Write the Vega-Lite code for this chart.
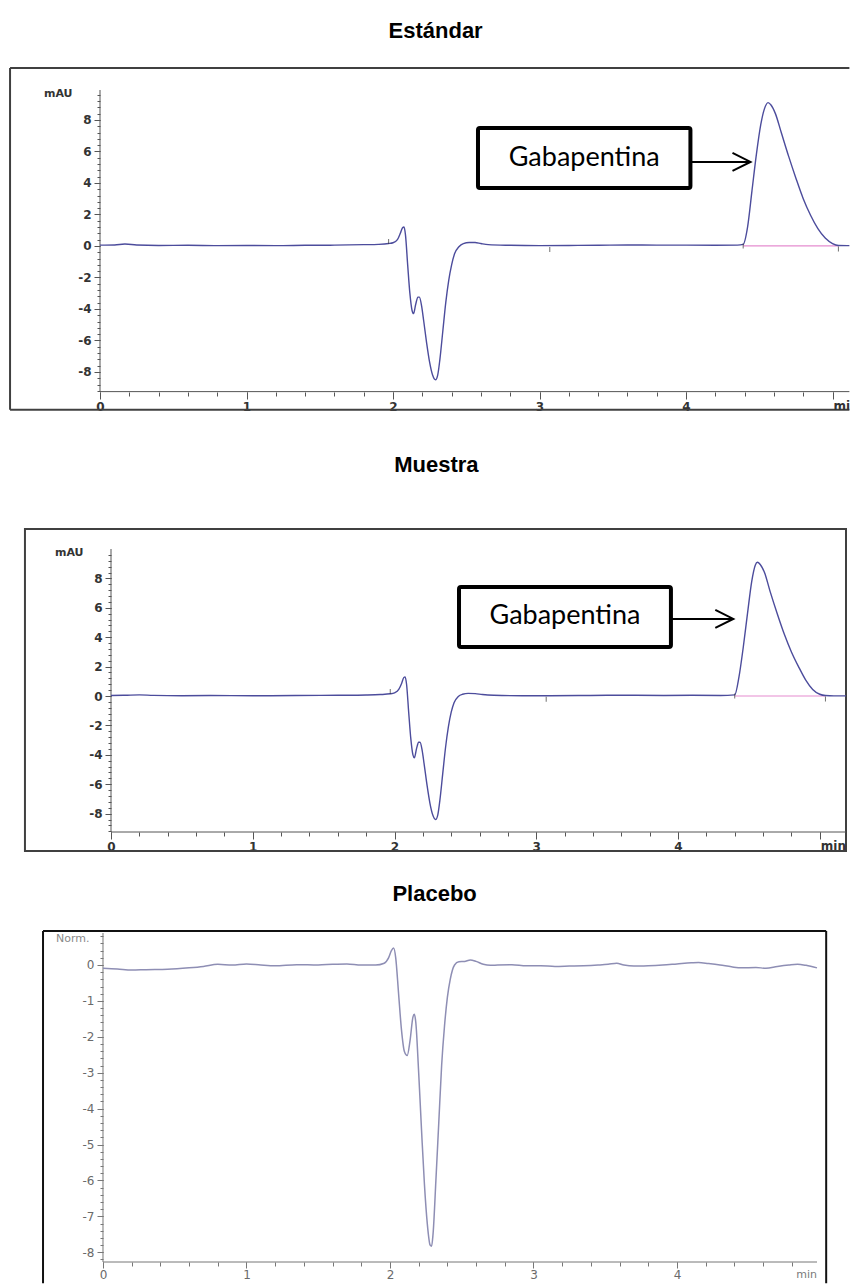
{
  "$schema": "https://vega.github.io/schema/vega-lite/v6.json",
  "background": "white",
  "padding": {"left": 9, "top": 19, "right": 0, "bottom": 0},
  "bounds": "flush",
  "spacing": 101,
  "datasets": {
    "estandar": [
      {"t": 0, "v": 0.05}, {"t": 0.1, "v": 0.06}, {"t": 0.17, "v": 0.12}, {"t": 0.25, "v": 0.06}, {"t": 0.4, "v": 0.03},
      {"t": 0.6, "v": 0.04}, {"t": 0.8, "v": 0.02}, {"t": 1.0, "v": 0.03}, {"t": 1.2, "v": 0.02}, {"t": 1.4, "v": 0.04},
      {"t": 1.6, "v": 0.05}, {"t": 1.8, "v": 0.08}, {"t": 1.9, "v": 0.1}, {"t": 1.97, "v": 0.15}, {"t": 2.0, "v": 0.2},
      {"t": 2.03, "v": 0.4}, {"t": 2.05, "v": 0.8}, {"t": 2.065, "v": 1.15}, {"t": 2.075, "v": 1.2}, {"t": 2.085, "v": 0.7},
      {"t": 2.1, "v": -1.2}, {"t": 2.115, "v": -3.0}, {"t": 2.13, "v": -4.1}, {"t": 2.14, "v": -4.3}, {"t": 2.155, "v": -3.7},
      {"t": 2.17, "v": -3.25}, {"t": 2.18, "v": -3.25}, {"t": 2.195, "v": -3.8}, {"t": 2.21, "v": -4.8}, {"t": 2.23, "v": -6.2},
      {"t": 2.25, "v": -7.4}, {"t": 2.27, "v": -8.2}, {"t": 2.29, "v": -8.5}, {"t": 2.305, "v": -8.2}, {"t": 2.32, "v": -7.2},
      {"t": 2.34, "v": -5.4}, {"t": 2.36, "v": -3.6}, {"t": 2.38, "v": -2.2}, {"t": 2.4, "v": -1.2}, {"t": 2.42, "v": -0.5},
      {"t": 2.45, "v": -0.05}, {"t": 2.48, "v": 0.15}, {"t": 2.52, "v": 0.22}, {"t": 2.56, "v": 0.22}, {"t": 2.6, "v": 0.15},
      {"t": 2.65, "v": 0.08}, {"t": 2.8, "v": 0.04}, {"t": 3.0, "v": 0.02}, {"t": 3.2, "v": 0.03}, {"t": 3.4, "v": 0.04},
      {"t": 3.6, "v": 0.06}, {"t": 3.8, "v": 0.05}, {"t": 4.0, "v": 0.05}, {"t": 4.2, "v": 0.04}, {"t": 4.35, "v": 0.05},
      {"t": 4.39, "v": 0.1}, {"t": 4.42, "v": 1.2}, {"t": 4.45, "v": 3.5}, {"t": 4.48, "v": 5.8}, {"t": 4.51, "v": 7.7},
      {"t": 4.535, "v": 8.7}, {"t": 4.56, "v": 9.1}, {"t": 4.58, "v": 8.95}, {"t": 4.61, "v": 8.4}, {"t": 4.65, "v": 7.2},
      {"t": 4.7, "v": 5.7}, {"t": 4.75, "v": 4.3}, {"t": 4.8, "v": 3.0}, {"t": 4.85, "v": 1.95}, {"t": 4.9, "v": 1.1},
      {"t": 4.95, "v": 0.5}, {"t": 5.0, "v": 0.15}, {"t": 5.04, "v": 0.03}, {"t": 5.1, "v": 0.02}, {"t": 5.115, "v": 0.02}
    ],
    "eventos_estandar": [
      {"t": 1.97, "v": 0.28}, {"t": 3.07, "v": -0.22}, {"t": 4.39, "v": 0.0}, {"t": 5.04, "v": -0.2}
    ],
    "muestra": [
      {"t": 0, "v": 0.03}, {"t": 0.1, "v": 0.05}, {"t": 0.2, "v": 0.08}, {"t": 0.3, "v": 0.04}, {"t": 0.5, "v": 0.02},
      {"t": 0.7, "v": 0.03}, {"t": 1.0, "v": 0.02}, {"t": 1.3, "v": 0.03}, {"t": 1.6, "v": 0.05}, {"t": 1.8, "v": 0.07},
      {"t": 1.9, "v": 0.1}, {"t": 1.97, "v": 0.15}, {"t": 2.0, "v": 0.22}, {"t": 2.03, "v": 0.45}, {"t": 2.05, "v": 0.85},
      {"t": 2.065, "v": 1.25}, {"t": 2.075, "v": 1.3}, {"t": 2.085, "v": 0.8}, {"t": 2.1, "v": -1.1}, {"t": 2.115, "v": -2.9},
      {"t": 2.13, "v": -4.0}, {"t": 2.14, "v": -4.2}, {"t": 2.155, "v": -3.6}, {"t": 2.17, "v": -3.15}, {"t": 2.18, "v": -3.15},
      {"t": 2.195, "v": -3.7}, {"t": 2.21, "v": -4.7}, {"t": 2.23, "v": -6.1}, {"t": 2.25, "v": -7.3}, {"t": 2.27, "v": -8.1},
      {"t": 2.29, "v": -8.4}, {"t": 2.305, "v": -8.1}, {"t": 2.32, "v": -7.1}, {"t": 2.34, "v": -5.3}, {"t": 2.36, "v": -3.5},
      {"t": 2.38, "v": -2.1}, {"t": 2.4, "v": -1.1}, {"t": 2.42, "v": -0.45}, {"t": 2.45, "v": -0.03}, {"t": 2.48, "v": 0.12},
      {"t": 2.52, "v": 0.18}, {"t": 2.57, "v": 0.16}, {"t": 2.62, "v": 0.1}, {"t": 2.7, "v": 0.05}, {"t": 2.9, "v": 0.02},
      {"t": 3.1, "v": 0.02}, {"t": 3.3, "v": 0.03}, {"t": 3.5, "v": 0.05}, {"t": 3.7, "v": 0.05}, {"t": 3.9, "v": 0.04},
      {"t": 4.1, "v": 0.05}, {"t": 4.3, "v": 0.04}, {"t": 4.4, "v": 0.08}, {"t": 4.43, "v": 1.3}, {"t": 4.46, "v": 3.3},
      {"t": 4.49, "v": 5.6}, {"t": 4.52, "v": 7.8}, {"t": 4.545, "v": 8.9}, {"t": 4.56, "v": 9.1}, {"t": 4.58, "v": 8.95},
      {"t": 4.61, "v": 8.4}, {"t": 4.65, "v": 7.1}, {"t": 4.7, "v": 5.6}, {"t": 4.75, "v": 4.2}, {"t": 4.8, "v": 3.0},
      {"t": 4.85, "v": 2.0}, {"t": 4.9, "v": 1.1}, {"t": 4.95, "v": 0.45}, {"t": 5.0, "v": 0.12}, {"t": 5.04, "v": 0.03},
      {"t": 5.1, "v": 0.01}, {"t": 5.185, "v": 0.01}
    ],
    "eventos_muestra": [
      {"t": 1.97, "v": 0.3}, {"t": 3.07, "v": -0.22}, {"t": 4.4, "v": 0.0}, {"t": 5.04, "v": -0.2}
    ],
    "placebo": [
      {"t": 0, "v": -0.09}, {"t": 0.1, "v": -0.11}, {"t": 0.2, "v": -0.14}, {"t": 0.3, "v": -0.13}, {"t": 0.45, "v": -0.12},
      {"t": 0.6, "v": -0.08}, {"t": 0.7, "v": -0.04}, {"t": 0.8, "v": 0.02}, {"t": 0.9, "v": 0.0}, {"t": 1.0, "v": 0.03},
      {"t": 1.1, "v": 0.0}, {"t": 1.2, "v": -0.02}, {"t": 1.35, "v": 0.01}, {"t": 1.5, "v": 0.0}, {"t": 1.6, "v": 0.02},
      {"t": 1.7, "v": 0.03}, {"t": 1.8, "v": 0.0}, {"t": 1.9, "v": 0.0}, {"t": 1.96, "v": 0.05}, {"t": 1.99, "v": 0.2},
      {"t": 2.01, "v": 0.4}, {"t": 2.025, "v": 0.47}, {"t": 2.04, "v": 0.2}, {"t": 2.06, "v": -0.8}, {"t": 2.08, "v": -1.8},
      {"t": 2.1, "v": -2.4}, {"t": 2.12, "v": -2.52}, {"t": 2.14, "v": -2.1}, {"t": 2.16, "v": -1.45}, {"t": 2.17, "v": -1.37},
      {"t": 2.18, "v": -1.6}, {"t": 2.2, "v": -3.0}, {"t": 2.22, "v": -4.6}, {"t": 2.24, "v": -6.1}, {"t": 2.26, "v": -7.2},
      {"t": 2.28, "v": -7.8}, {"t": 2.29, "v": -7.83}, {"t": 2.3, "v": -7.5}, {"t": 2.32, "v": -6.0}, {"t": 2.34, "v": -4.4},
      {"t": 2.36, "v": -2.8}, {"t": 2.38, "v": -1.7}, {"t": 2.4, "v": -0.9}, {"t": 2.42, "v": -0.4}, {"t": 2.45, "v": 0.0},
      {"t": 2.48, "v": 0.09}, {"t": 2.52, "v": 0.1}, {"t": 2.56, "v": 0.14}, {"t": 2.6, "v": 0.1}, {"t": 2.65, "v": 0.02},
      {"t": 2.7, "v": -0.01}, {"t": 2.75, "v": 0.0}, {"t": 2.85, "v": 0.01}, {"t": 2.95, "v": -0.02}, {"t": 3.05, "v": -0.02},
      {"t": 3.15, "v": -0.04}, {"t": 3.25, "v": -0.03}, {"t": 3.35, "v": -0.02}, {"t": 3.45, "v": 0.0}, {"t": 3.52, "v": 0.02},
      {"t": 3.58, "v": 0.05}, {"t": 3.63, "v": 0.0}, {"t": 3.7, "v": -0.03}, {"t": 3.8, "v": -0.02}, {"t": 3.9, "v": 0.0},
      {"t": 4.0, "v": 0.03}, {"t": 4.1, "v": 0.06}, {"t": 4.15, "v": 0.07}, {"t": 4.22, "v": 0.04}, {"t": 4.3, "v": 0.0},
      {"t": 4.38, "v": -0.05}, {"t": 4.45, "v": -0.08}, {"t": 4.55, "v": -0.07}, {"t": 4.62, "v": -0.09}, {"t": 4.7, "v": -0.04},
      {"t": 4.78, "v": 0.0}, {"t": 4.84, "v": 0.02}, {"t": 4.9, "v": -0.01}, {"t": 4.976, "v": -0.08}
    ]
  },
  "vconcat": [
    {
      "title": {"text": "Estándar", "offset": 24, "dx": 5},
      "width": 751,
      "height": 358,
      "resolve": {"axis": {"x": "independent", "y": "independent"}},
      "layer": [
        {
          "data": {"values": [{}]},
          "mark": {"type": "rule", "color": "#404040", "strokeWidth": 2},
          "encoding": {
            "x": {"datum": -0.614, "type": "quantitative", "axis": null},
            "x2": {"datum": 5.115},
            "y": {"datum": 11.3, "type": "quantitative", "axis": null}
          }
        },
        {
          "data": {"values": [{}]},
          "mark": {"type": "rule", "color": "#404040", "strokeWidth": 2},
          "encoding": {
            "x": {"datum": -0.614, "type": "quantitative", "axis": null},
            "x2": {"datum": 5.115},
            "y": {"datum": -10.4, "type": "quantitative", "axis": null}
          }
        },
        {
          "data": {"values": [{}]},
          "mark": {"type": "rule", "color": "#404040", "strokeWidth": 2},
          "encoding": {
            "x": {"datum": -0.614, "type": "quantitative", "axis": null},
            "y": {"datum": 11.3, "type": "quantitative", "axis": null},
            "y2": {"datum": -10.4}
          }
        },
        {
          "data": {"values": [{}]},
          "mark": {"type": "rule", "color": "#555555", "strokeWidth": 1},
          "encoding": {
            "x": {
              "datum": 0, "type": "quantitative",
              "axis": {"orient": "bottom", "offset": -56, "labels": false, "tickSize": 4, "title": null,
                       "values": [0,0.2,0.4,0.6,0.8,1,1.2,1.4,1.6,1.8,2,2.2,2.4,2.6,2.8,3,3.2,3.4,3.6,3.8,4,4.2,4.4,4.6,4.8,5]}
            },
            "x2": {"datum": 5.115},
            "y": {"datum": -9.25, "type": "quantitative", "axis": null}
          }
        },
        {
          "data": {"values": [{}]},
          "mark": {"type": "rule", "color": "#555555", "strokeWidth": 1},
          "encoding": {
            "x": {"datum": 0, "type": "quantitative", "axis": null},
            "y": {
              "datum": -9.25, "type": "quantitative",
              "axis": {"orient": "left", "labels": false, "tickSize": 3, "title": null,
                       "values": [-9.2,-8.8,-8.4,-8,-7.6,-7.2,-6.8,-6.4,-6,-5.6,-5.2,-4.8,-4.4,-4,-3.6,-3.2,-2.8,-2.4,-2,-1.6,-1.2,-0.8,-0.4,0,0.4,0.8,1.2,1.6,2,2.4,2.8,3.2,3.6,4,4.4,4.8,5.2,5.6,6,6.4,6.8,7.2,7.6,8,8.4,8.8,9.2,9.6]}
            },
            "y2": {"datum": 9.9}
          }
        },
        {
          "data": {"values": [{}]},
          "mark": {"type": "rule", "color": "#e58ccf", "strokeWidth": 1.2},
          "encoding": {
            "x": {"datum": 4.39, "type": "quantitative", "axis": null},
            "x2": {"datum": 5.04},
            "y": {"datum": 0, "type": "quantitative", "axis": null}
          }
        },
        {
          "data": {"name": "estandar"},
          "mark": {"type": "line", "interpolate": "monotone", "color": "#4c4c9c", "strokeWidth": 1.4},
          "encoding": {
            "x": {
              "field": "t", "type": "quantitative",
              "scale": {"domain": [0, 5.126], "nice": false, "zero": false},
              "axis": {"orient": "bottom", "offset": -56, "values": [0,1,2,3,4,5], "labelExpr": "datum.value == 5 ? '' : datum.label",
                       "tickSize": 7, "labelPadding": 2, "labelFontWeight": "bold", "title": null}
            },
            "y": {
              "field": "v", "type": "quantitative",
              "scale": {"domain": [-12.83, 9.9], "nice": false, "zero": false},
              "axis": {"orient": "left", "values": [-8,-6,-4,-2,0,2,4,6,8], "labelExpr": "replace(datum.label, '\u2212', '-')",
                       "tickSize": 6, "labelPadding": 3, "labelFontWeight": "bold",
                       "title": "mAU", "titleFontWeight": "bold", "titleAngle": 0, "titleAlign": "right", "titleBaseline": "middle", "titleX": -28, "titleY": 3}
            }
          }
        },
        {
          "data": {"name": "eventos_estandar"},
          "mark": {"type": "tick", "orient": "vertical", "size": 5, "thickness": 1, "color": "#333333"},
          "encoding": {
            "x": {"field": "t", "type": "quantitative", "axis": null},
            "y": {"field": "v", "type": "quantitative", "axis": null}
          }
        },
        {
          "data": {"values": [{}]},
          "mark": {"type": "rect", "fill": "white", "stroke": "black", "strokeWidth": 4, "cornerRadius": 2},
          "encoding": {
            "x": {"datum": 2.58, "type": "quantitative", "axis": null},
            "x2": {"datum": 4.03},
            "y": {"datum": 7.49, "type": "quantitative", "axis": null},
            "y2": {"datum": 3.68}
          }
        },
        {
          "data": {"values": [{}]},
          "mark": {"type": "text", "font": "Lato", "fontSize": 27, "color": "black", "align": "center", "baseline": "middle"},
          "encoding": {
            "x": {"datum": 3.305, "type": "quantitative", "axis": null},
            "y": {"datum": 5.6, "type": "quantitative", "axis": null},
            "text": {"value": "Gabapentina"}
          }
        },
        {
          "data": {"values": [{}]},
          "mark": {"type": "rule", "color": "black", "strokeWidth": 2},
          "encoding": {
            "x": {"datum": 4.03, "type": "quantitative", "axis": null},
            "x2": {"datum": 4.44},
            "y": {"datum": 5.33, "type": "quantitative", "axis": null}
          }
        },
        {
          "data": {"values": [{}]},
          "mark": {"type": "point", "shape": "M-2,-1L0,0L-2,1", "size": 324, "filled": false, "stroke": "black", "strokeWidth": 2, "opacity": 1},
          "encoding": {
            "x": {"datum": 4.44, "type": "quantitative", "axis": null},
            "y": {"datum": 5.33, "type": "quantitative", "axis": null}
          }
        },
        {
          "data": {"values": [{}]},
          "mark": {"type": "text", "font": "DejaVu Sans", "fontSize": 12, "fontWeight": "bold", "color": "#333333", "align": "left", "baseline": "top", "dx": 1, "dy": 9, "limit": 17, "ellipsis": "\u200b"},
          "encoding": {
            "x": {"datum": 5, "type": "quantitative", "axis": null},
            "y": {"datum": -9.25, "type": "quantitative", "axis": null},
            "text": {"value": "min"}
          }
        }
      ]
    },
    {
      "title": {"text": "Muestra", "offset": 51},
      "width": 746,
      "height": 283,
      "resolve": {"axis": {"x": "independent", "y": "independent"}},
      "layer": [
        {
          "data": {"values": [{}]},
          "mark": {"type": "rect", "fill": null, "stroke": "#404040", "strokeWidth": 2},
          "encoding": {
            "x": {"datum": -0.607, "type": "quantitative", "axis": null},
            "x2": {"datum": 5.185},
            "y": {"datum": 11.36, "type": "quantitative", "axis": null},
            "y2": {"datum": -10.54}
          }
        },
        {
          "data": {"values": [{}]},
          "mark": {"type": "rule", "color": "#555555", "strokeWidth": 1},
          "encoding": {
            "x": {
              "datum": 0, "type": "quantitative",
              "axis": {"orient": "bottom", "labels": false, "tickSize": 4, "title": null,
                       "values": [0,0.2,0.4,0.6,0.8,1,1.2,1.4,1.6,1.8,2,2.2,2.4,2.6,2.8,3,3.2,3.4,3.6,3.8,4,4.2,4.4,4.6,4.8,5]}
            },
            "x2": {"datum": 5.185},
            "y": {"datum": -9.25, "type": "quantitative", "axis": null}
          }
        },
        {
          "data": {"values": [{}]},
          "mark": {"type": "rule", "color": "#555555", "strokeWidth": 1},
          "encoding": {
            "x": {"datum": 0, "type": "quantitative", "axis": null},
            "y": {
              "datum": -9.25, "type": "quantitative",
              "axis": {"orient": "left", "offset": -11, "labels": false, "tickSize": 3, "title": null,
                       "values": [-9.2,-8.8,-8.4,-8,-7.6,-7.2,-6.8,-6.4,-6,-5.6,-5.2,-4.8,-4.4,-4,-3.6,-3.2,-2.8,-2.4,-2,-1.6,-1.2,-0.8,-0.4,0,0.4,0.8,1.2,1.6,2,2.4,2.8,3.2,3.6,4,4.4,4.8,5.2,5.6,6,6.4,6.8,7.2,7.6,8,8.4,8.8,9.2,9.6]}
            },
            "y2": {"datum": 10.0}
          }
        },
        {
          "data": {"values": [{}]},
          "mark": {"type": "rule", "color": "#e58ccf", "strokeWidth": 1.2},
          "encoding": {
            "x": {"datum": 4.4, "type": "quantitative", "axis": null},
            "x2": {"datum": 5.04},
            "y": {"datum": 0, "type": "quantitative", "axis": null}
          }
        },
        {
          "data": {"name": "muestra"},
          "mark": {"type": "line", "interpolate": "monotone", "color": "#4c4c9c", "strokeWidth": 1.4},
          "encoding": {
            "x": {
              "field": "t", "type": "quantitative",
              "scale": {"domain": [-0.0776, 5.185], "nice": false, "zero": false},
              "axis": {"orient": "bottom", "values": [0,1,2,3,4,5], "labelExpr": "datum.value == 5 ? '' : datum.label",
                       "tickSize": 7, "labelPadding": 2, "labelFontWeight": "bold", "title": null}
            },
            "y": {
              "field": "v", "type": "quantitative",
              "scale": {"domain": [-9.25, 10.0], "nice": false, "zero": false},
              "axis": {"orient": "left", "offset": -11, "values": [-8,-6,-4,-2,0,2,4,6,8], "labelExpr": "replace(datum.label, '\u2212', '-')",
                       "tickSize": 6, "labelPadding": 3, "labelFontWeight": "bold",
                       "title": "mAU", "titleFontWeight": "bold", "titleAngle": 0, "titleAlign": "right", "titleBaseline": "middle", "titleX": -28, "titleY": 3}
            }
          }
        },
        {
          "data": {"name": "eventos_muestra"},
          "mark": {"type": "tick", "orient": "vertical", "size": 5, "thickness": 1, "color": "#333333"},
          "encoding": {
            "x": {"field": "t", "type": "quantitative", "axis": null},
            "y": {"field": "v", "type": "quantitative", "axis": null}
          }
        },
        {
          "data": {"values": [{}]},
          "mark": {"type": "rect", "fill": "white", "stroke": "black", "strokeWidth": 4, "cornerRadius": 2},
          "encoding": {
            "x": {"datum": 2.455, "type": "quantitative", "axis": null},
            "x2": {"datum": 3.95},
            "y": {"datum": 7.41, "type": "quantitative", "axis": null},
            "y2": {"datum": 3.33}
          }
        },
        {
          "data": {"values": [{}]},
          "mark": {"type": "text", "font": "Lato", "fontSize": 27, "color": "black", "align": "center", "baseline": "middle"},
          "encoding": {
            "x": {"datum": 3.2025, "type": "quantitative", "axis": null},
            "y": {"datum": 5.45, "type": "quantitative", "axis": null},
            "text": {"value": "Gabapentina"}
          }
        },
        {
          "data": {"values": [{}]},
          "mark": {"type": "rule", "color": "black", "strokeWidth": 2},
          "encoding": {
            "x": {"datum": 3.95, "type": "quantitative", "axis": null},
            "x2": {"datum": 4.39},
            "y": {"datum": 5.24, "type": "quantitative", "axis": null}
          }
        },
        {
          "data": {"values": [{}]},
          "mark": {"type": "point", "shape": "M-2,-1L0,0L-2,1", "size": 324, "filled": false, "stroke": "black", "strokeWidth": 2, "opacity": 1},
          "encoding": {
            "x": {"datum": 4.39, "type": "quantitative", "axis": null},
            "y": {"datum": 5.24, "type": "quantitative", "axis": null}
          }
        },
        {
          "data": {"values": [{}]},
          "mark": {"type": "text", "font": "DejaVu Sans", "fontSize": 12, "fontWeight": "bold", "color": "#333333", "align": "left", "baseline": "top", "dx": 1, "dy": 9},
          "encoding": {
            "x": {"datum": 5, "type": "quantitative", "axis": null},
            "y": {"datum": -9.25, "type": "quantitative", "axis": null},
            "text": {"value": "min"}
          }
        }
      ]
    },
    {
      "title": {"text": "Placebo", "offset": 24},
      "width": 717,
      "height": 329,
      "resolve": {"axis": {"x": "independent", "y": "independent"}},
      "layer": [
        {
          "data": {"values": [{}]},
          "mark": {"type": "rule", "color": "#111111", "strokeWidth": 2},
          "encoding": {
            "x": {"datum": -0.418, "type": "quantitative", "axis": null},
            "x2": {"datum": 5.04},
            "y": {"datum": 0.947, "type": "quantitative", "axis": null}
          }
        },
        {
          "data": {"values": [{}]},
          "mark": {"type": "rule", "color": "#111111", "strokeWidth": 2},
          "encoding": {
            "x": {"datum": -0.418, "type": "quantitative", "axis": null},
            "y": {"datum": 0.947, "type": "quantitative", "axis": null},
            "y2": {"datum": -8.86}
          }
        },
        {
          "data": {"values": [{}]},
          "mark": {"type": "rule", "color": "#111111", "strokeWidth": 2},
          "encoding": {
            "x": {"datum": 5.04, "type": "quantitative", "axis": null},
            "y": {"datum": 0.947, "type": "quantitative", "axis": null},
            "y2": {"datum": -8.86}
          }
        },
        {
          "data": {"values": [{}]},
          "mark": {"type": "rule", "color": "#777777", "strokeWidth": 1},
          "encoding": {
            "x": {
              "datum": 0, "type": "quantitative",
              "axis": {"orient": "bottom", "labels": false, "tickSize": 4, "tickColor": "#777777", "title": null,
                       "values": [0,0.2,0.4,0.6,0.8,1,1.2,1.4,1.6,1.8,2,2.2,2.4,2.6,2.8,3,3.2,3.4,3.6,3.8,4,4.2,4.4,4.6,4.8]}
            },
            "x2": {"datum": 4.976},
            "y": {"datum": -8.27, "type": "quantitative", "axis": null}
          }
        },
        {
          "data": {"values": [{}]},
          "mark": {"type": "rule", "color": "#777777", "strokeWidth": 1},
          "encoding": {
            "x": {"datum": 0, "type": "quantitative", "axis": null},
            "y": {
              "datum": -8.27, "type": "quantitative",
              "axis": {"orient": "left", "offset": -3, "labels": false, "tickSize": 3, "tickColor": "#777777", "title": null,
                       "values": [-8.2,-8,-7.8,-7.6,-7.4,-7.2,-7,-6.8,-6.6,-6.4,-6.2,-6,-5.8,-5.6,-5.4,-5.2,-5,-4.8,-4.6,-4.4,-4.2,-4,-3.8,-3.6,-3.4,-3.2,-3,-2.8,-2.6,-2.4,-2.2,-2,-1.8,-1.6,-1.4,-1.2,-1,-0.8,-0.6,-0.4,-0.2,0,0.2,0.4,0.6,0.8]}
            },
            "y2": {"datum": 0.891}
          }
        },
        {
          "data": {"name": "placebo"},
          "mark": {"type": "line", "interpolate": "monotone", "color": "#8e8eb4", "strokeWidth": 1.5},
          "encoding": {
            "x": {
              "field": "t", "type": "quantitative",
              "scale": {"domain": [-0.0209, 4.976], "nice": false, "zero": false},
              "axis": {"orient": "bottom", "values": [0,1,2,3,4], "tickSize": 6, "labelPadding": 1, "labelColor": "#6a6a6a", "tickColor": "#777777", "title": null}
            },
            "y": {
              "field": "v", "type": "quantitative",
              "scale": {"domain": [-8.27, 0.891], "nice": false, "zero": false},
              "axis": {"orient": "left", "offset": -3, "values": [-8,-7,-6,-5,-4,-3,-2,-1,0], "labelExpr": "replace(datum.label, '\u2212', '-')",
                       "tickSize": 6, "labelPadding": 3, "labelColor": "#6a6a6a", "tickColor": "#777777",
                       "title": "Norm.", "titleColor": "#8a8a8a", "titleAngle": 0, "titleAlign": "right", "titleBaseline": "middle", "titleX": -14, "titleY": 5}
            }
          }
        },
        {
          "data": {"values": [{}]},
          "mark": {"type": "text", "font": "DejaVu Sans", "fontSize": 11, "color": "#7a7a7a", "align": "right", "baseline": "top", "dx": 0, "dy": 7},
          "encoding": {
            "x": {"datum": 4.976, "type": "quantitative", "axis": null},
            "y": {"datum": -8.27, "type": "quantitative", "axis": null},
            "text": {"value": "min"}
          }
        }
      ]
    }
  ],
  "config": {
    "view": {"stroke": null},
    "title": {"font": "Liberation Sans", "fontSize": 22, "fontWeight": "bold", "color": "black", "anchor": "middle", "frame": "bounds"},
    "axis": {
      "domain": false, "grid": false,
      "labelFont": "DejaVu Sans", "labelFontSize": 12, "labelColor": "#333333",
      "tickColor": "#555555", "tickWidth": 1,
      "labelFlush": false, "labelOverlap": false,
      "titleFont": "DejaVu Sans", "titleFontSize": 11, "titleFontWeight": "normal", "titleColor": "#333333"
    }
  }
}
